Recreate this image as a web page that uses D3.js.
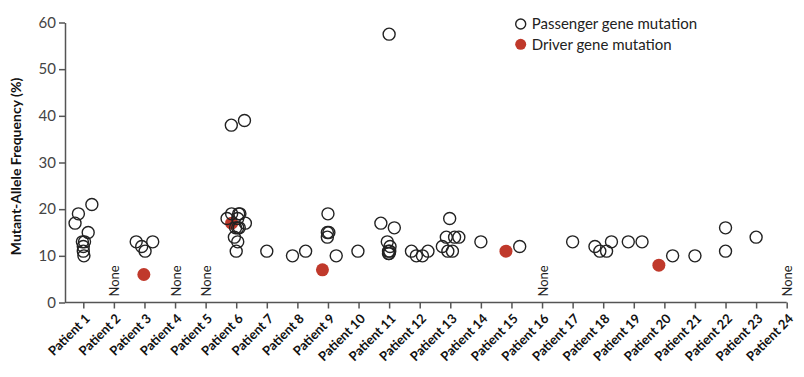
<!DOCTYPE html>
<html>
  <head>
    <title>Mutant-Allele Frequency by Patient</title>
    <script src="https://d3js.org/d3.v7.min.js"></script>
    <style>
      body { margin: 0; background: #fff; }
      text { font-family: Lato, "Open Sans", sans-serif; }
    </style>
  </head>
  <body>
    <div id="chart"></div>
    <script>
      // patients on the x axis
      var patients = d3.range(1, 25).map(function(i) { return "Patient " + i; });
      var nonePatients = [2, 4, 5, 16, 24];
      var yTicks = [0, 10, 20, 30, 40, 50, 60];

      // passenger mutations: pos = patient number (with jitter), freq = %
      var passengerPos = [
        0.73, 0.84, 1.28, 1.16, 0.97, 1.04, 1.0, 1.0, 1.02,
        2.73, 2.91, 3.02, 3.27,
        5.84, 6.27, 5.85, 6.08, 6.12, 5.7, 6.05, 6.3, 5.98, 6.05, 6.1, 5.94, 6.05, 6.0,
        7.0,
        7.84, 8.27,
        9.0, 8.98, 9.03, 8.98, 9.27,
        9.98,
        11.0, 10.73, 11.17, 10.94, 11.03, 10.98, 11.02, 10.98, 11.0,
        11.73, 11.89, 12.09, 12.27,
        12.98, 12.87, 13.14, 13.28, 12.74, 12.92, 13.07,
        14.0,
        15.27,
        17.0,
        17.73, 17.89, 18.11, 18.27,
        18.82, 19.27,
        20.27,
        21.0,
        22.0, 22.0,
        23.0
      ];
      var passengerFreq = [
        17, 19, 21, 15, 13, 13, 12, 11, 10,
        13, 12, 11, 13,
        38, 39, 19, 19, 19, 18, 18, 17, 16, 16, 16, 14, 13, 11,
        11,
        10, 11,
        19, 15, 15, 14, 10,
        11,
        57.5, 17, 16, 13, 12, 11, 11, 10.5, 10.5,
        11, 10, 10, 11,
        18, 14, 14, 14, 12, 11, 11,
        13,
        12,
        13,
        12, 11, 11, 13,
        13, 13,
        10,
        10,
        16, 11,
        14
      ];

      // driver mutations
      var driverPos = [2.98, 5.85, 8.82, 14.82, 19.82];
      var driverFreq = [6, 17, 7, 11, 8];

      var width = 804, height = 377;
      var margin = { top: 22.5, left: 65, bottom: 74.5 };

      var svg = d3.select("#chart")
        .append("svg")
        .attr("width", width)
        .attr("height", height);

      var x = d3.scaleLinear()
        .domain([1, 24])
        .range([83.3, 786.7]);

      var y = d3.scaleLinear()
        .domain([0, 60])
        .range([height - margin.bottom, margin.top]);

      var axisColor = "#555";

      // y axis
      var yAxis = svg.append("g")
        .attr("transform", "translate(" + margin.left + ",0)")
        .call(d3.axisLeft(y).tickValues(yTicks).tickSize(6).tickSizeOuter(0).tickPadding(3));
      yAxis.select(".domain").attr("stroke", axisColor).attr("stroke-width", 1.5);
      yAxis.selectAll(".tick line").attr("stroke", axisColor).attr("stroke-width", 1.5);
      yAxis.selectAll(".tick text")
        .attr("font-size", "15px")
        .attr("fill", "#444")
        .style("font-family", "Lato, sans-serif");

      // x axis
      var xAxis = svg.append("g")
        .attr("transform", "translate(0," + y(0) + ")")
        .call(d3.axisBottom(x)
          .tickValues(d3.range(1, 25))
          .tickFormat(function(d) { return patients[d - 1]; })
          .tickSize(6)
          .tickSizeOuter(0));
      xAxis.select(".domain").remove();
      xAxis.append("line")
        .attr("x1", margin.left)
        .attr("x2", x(24))
        .attr("stroke", axisColor)
        .attr("stroke-width", 1.5);
      xAxis.selectAll(".tick line").attr("stroke", axisColor).attr("stroke-width", 1.5);
      xAxis.selectAll(".tick text")
        .attr("font-size", "13px")
        .attr("font-weight", "bold")
        .attr("fill", "#111")
        .attr("text-anchor", "end")
        .attr("dx", 0)
        .attr("dy", 0)
        .attr("y", 0)
        .attr("transform", "translate(7,17) rotate(-45)")
        .style("font-family", "Lato, sans-serif");

      // y axis title
      svg.append("text")
        .text("Mutant-Allele Frequency (%)")
        .attr("transform", "translate(21," + (y(30) + 4) + ") rotate(-90)")
        .attr("text-anchor", "middle")
        .attr("font-size", "14px")
        .attr("font-weight", "bold")
        .attr("fill", "#111");

      // "None" labels
      svg.selectAll("text.none")
        .data(nonePatients)
        .enter()
        .append("text")
        .attr("class", "none")
        .text("None")
        .attr("transform", function(d) { return "translate(" + (x(d) + 1) + "," + (y(0) - 6) + ") rotate(-90)"; })
        .attr("dy", "0.35em")
        .attr("font-size", "13px")
        .attr("fill", "#222");

      // driver points (drawn first, passengers overlap them)
      svg.selectAll("circle.driver")
        .data(driverPos)
        .enter()
        .append("circle")
        .attr("class", "driver")
        .attr("cx", function(d) { return x(d); })
        .attr("cy", function(d, i) { return y(driverFreq[i]); })
        .attr("r", 6.5)
        .attr("fill", "#c0392b");

      svg.selectAll("circle.passenger")
        .data(passengerPos)
        .enter()
        .append("circle")
        .attr("class", "passenger")
        .attr("cx", function(d) { return x(d); })
        .attr("cy", function(d, i) { return y(passengerFreq[i]); })
        .attr("r", 6)
        .attr("fill", "none")
        .attr("stroke", "#222")
        .attr("stroke-width", 1.4);

      // legend
      var legend = svg.append("g").attr("transform", "translate(520.7,0)");
      legend.append("circle")
        .attr("cx", 0).attr("cy", 24).attr("r", 5)
        .attr("fill", "none").attr("stroke", "#222").attr("stroke-width", 1.4);
      legend.append("circle")
        .attr("cx", 0).attr("cy", 44.3).attr("r", 5.5)
        .attr("fill", "#c0392b");
      legend.append("text")
        .text("Passenger gene mutation")
        .attr("x", 11).attr("y", 24).attr("dy", "0.35em")
        .attr("font-size", "15px").attr("fill", "#222");
      legend.append("text")
        .text("Driver gene mutation")
        .attr("x", 11).attr("y", 44.3).attr("dy", "0.35em")
        .attr("font-size", "15px").attr("fill", "#222");
    </script>
  </body>
</html>
